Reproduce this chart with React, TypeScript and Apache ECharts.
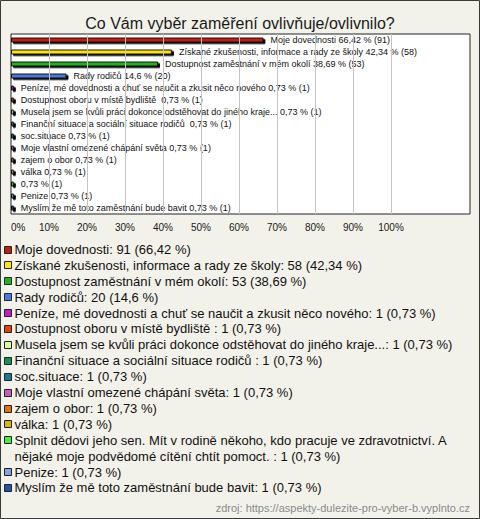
import React, { useEffect, useRef } from "react";
import * as echarts from "echarts";

const barNames = [
  "Moje dovednosti",
  "Získané zkušenosti, informace a rady ze školy",
  "Dostupnost zaměstnání v mém okolí",
  "Rady rodičů",
  "Peníze, mé dovednosti a chuť se naučit a zkusit něco nového",
  "Dostupnost oboru v místě bydliště ",
  "Musela jsem se kvůli práci dokonce odstěhovat do jiného kraje...",
  "Finanční situace a sociální situace rodičů ",
  "soc.situace",
  "Moje vlastní omezené chápání světa",
  "zajem o obor",
  "válka",
  "",
  "Penize",
  "Myslím že mě toto zaměstnání bude bavit",
];

const legendNames = [
  "Moje dovednosti",
  "Získané zkušenosti, informace a rady ze školy",
  "Dostupnost zaměstnání v mém okolí",
  "Rady rodičů",
  "Peníze, mé dovednosti a chuť se naučit a zkusit něco nového",
  "Dostupnost oboru v místě bydliště ",
  "Musela jsem se kvůli práci dokonce odstěhovat do jiného kraje...",
  "Finanční situace a sociální situace rodičů ",
  "soc.situace",
  "Moje vlastní omezené chápání světa",
  "zajem o obor",
  "válka",
  "Splnit dědovi jeho sen. Mít v rodině někoho, kdo pracuje ve zdravotnictví. A\nnějaké moje podvědomé cítění chtít pomoct. ",
  "Penize",
  "Myslím že mě toto zaměstnání bude bavit",
];

const counts = [91, 58, 53, 20, 1, 1, 1, 1, 1, 1, 1, 1, 1, 1, 1];
const percents = [66.42, 42.34, 38.69, 14.6, 0.73, 0.73, 0.73, 0.73, 0.73, 0.73, 0.73, 0.73, 0.73, 0.73, 0.73];

const colors = [
  "#c41c0e",
  "#ffe600",
  "#1fb51f",
  "#4a78e6",
  "#c21ccf",
  "#e2440f",
  "#d4ff96",
  "#14935a",
  "#1a7a92",
  "#c25ec4",
  "#e2740f",
  "#e4b200",
  "#44ee3a",
  "#7fa2e8",
  "#2452b4",
];

const xTicks = [0, 10, 20, 30, 40, 50, 60, 70, 80, 90, 100];

const FONT = "'Liberation Sans', Arial, sans-serif";
const fmt = (p: number) => String(p).replace(".", ",");

export default function App() {
  const ref = useRef<HTMLDivElement>(null);

  useEffect(() => {
    if (!ref.current) return;
    const chart = echarts.init(ref.current, undefined, { renderer: "svg" });

    const gridLeft = 11;
    const gridRight100 = 391;
    const gridRightEdge = 470;
    const xMax = (100 * (gridRightEdge - gridLeft)) / (gridRight100 - gridLeft);

    const graphics: any[] = [];
    graphics.push({
      type: "rect",
      shape: { x: 0.5, y: 0.5, width: 479, height: 518 },
      style: { fill: "none", stroke: "#3a3a3a", lineWidth: 1 },
      silent: true,
    });
    let line = 0;
    const lh = 15.9;
    legendNames.forEach((name, i) => {
      const yc = 249.5 + line * lh;
      graphics.push({
        type: "rect",
        shape: { x: 4.5, y: Math.round(yc - 4) + 0.5, width: 7, height: 7 },
        style: { fill: colors[i], stroke: "#222", lineWidth: 1 },
        silent: true,
      });
      graphics.push({
        type: "text",
        x: 14.5,
        y: yc - lh / 2,
        style: {
          text: `${name}: ${counts[i]} (${fmt(percents[i])} %)`,
          fontSize: 13,
          fontFamily: FONT,
          fill: "#111",
          lineHeight: lh,
          verticalAlign: "top",
          align: "left",
        },
        silent: true,
      });
      line += name.split("\n").length;
    });
    graphics.push({
      type: "text",
      x: 470,
      y: 508,
      style: {
        text: "zdroj: https://aspekty-dulezite-pro-vyber-b.vyplnto.cz",
        fontSize: 11,
        fontFamily: FONT,
        fill: "#8a8a8a",
        align: "right",
        verticalAlign: "middle",
      },
      silent: true,
    });

    chart.setOption({
      animation: false,
      backgroundColor: "#f3f2ea",
      title: {
        text: "Co Vám vyběr zaměření ovlivňuje/ovlivnilo?",
        left: "center",
        top: 9,
        textStyle: {
          fontSize: 16,
          fontWeight: "normal",
          fontFamily: FONT,
          color: "#1a1a1a",
          lineHeight: 18,
        },
      },
      grid: {
        left: gridLeft,
        top: 34,
        width: gridRightEdge - gridLeft,
        height: 180,
        show: true,
        backgroundColor: "#ffffff",
        borderColor: "#222",
        borderWidth: 1,
        containLabel: false,
      },
      xAxis: {
        type: "value",
        min: 0,
        max: xMax,
        interval: 10,
        axisLine: { show: false },
        axisTick: { show: false },
        splitLine: { show: false },
        axisLabel: {
          margin: 8,
          fontSize: 10,
          fontFamily: FONT,
          color: "#1a1a1a",
          showMaxLabel: false,
          alignMinLabel: "left",
          formatter: (v: number) => (v <= 100 + 1e-6 ? `${Math.round(v)}%` : ""),
        },
      },
      yAxis: {
        type: "category",
        inverse: true,
        data: barNames.map((n, i) => n || `#${i}`),
        axisLine: { show: false },
        axisTick: { show: false },
        axisLabel: { show: false },
        splitLine: { show: false },
      },
      series: [
        {
          type: "line",
          z: 1,
          data: [],
          silent: true,
          markLine: {
            silent: true,
            symbol: ["none", "none"],
            label: { show: false },
            lineStyle: { color: "#c4c4c4", type: "solid", width: 1 },
            data: xTicks.filter((t) => t > 0).map((t) => ({ xAxis: t })),
          },
        },
        {
          type: "bar",
          z: 3,
          barWidth: 5,
          data: percents.map((p, i) => ({
            value: p,
            itemStyle: {
              color: colors[i],
              borderColor: "#111",
              borderWidth: 1,
              shadowColor: "#000",
              shadowOffsetX: 2,
              shadowOffsetY: 1.5,
              shadowBlur: 0,
            },
          })),
          label: {
            show: true,
            position: "right",
            distance: 7,
            fontSize: 9,
            fontFamily: FONT,
            color: "#111",
            formatter: (p: any) => {
              const i = p.dataIndex;
              const n = barNames[i];
              return `${n ? n + " " : ""}${fmt(percents[i])} % (${counts[i]})`;
            },
          },
        },
      ],
      graphic: { elements: graphics },
    });

    return () => chart.dispose();
  }, []);

  return (
    <div
      ref={ref}
      style={{ position: "fixed", left: 0, top: 0, width: 480, height: 519 }}
    />
  );
}
